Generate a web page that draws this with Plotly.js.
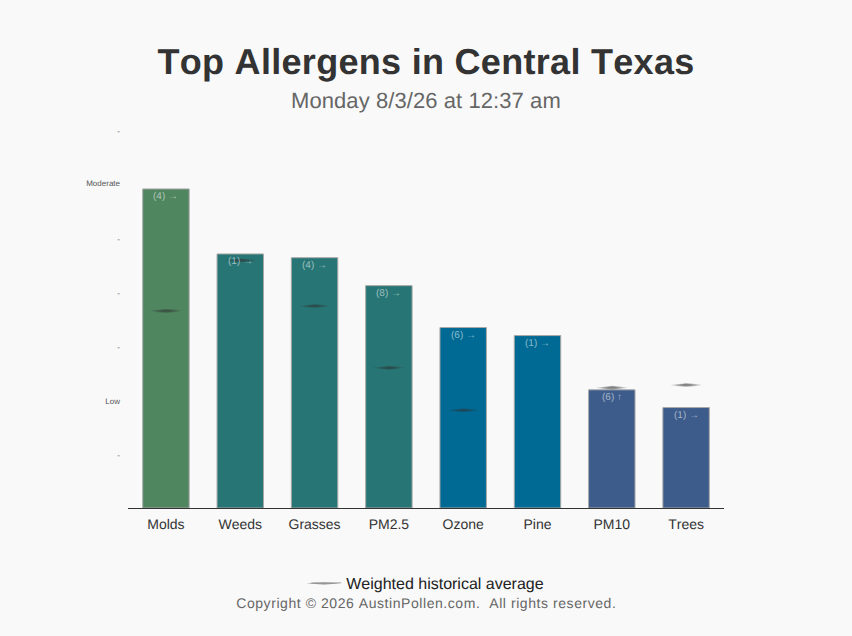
<!DOCTYPE html>
<html>
<head>
<meta charset="utf-8">
<script src="https://cdn.plot.ly/plotly-3.0.1.min.js"></script>
<style>
html,body{margin:0;padding:0;background:#f9f9f9;}
#chart{width:852px;height:636px;}
#chart text{text-rendering:geometricPrecision;font-kerning:none;}
.annotation-text[data-unformatted^="Copyright"]{letter-spacing:0.56px;}
.annotation-text[data-unformatted^="Monday"]{letter-spacing:0.08px;}
.gtitle{letter-spacing:0.3px;}
</style>
</head>
<body>
<div id="chart"></div>
<script>
const categories = ["Molds","Weeds","Grasses","PM2.5","Ozone","Pine","PM10","Trees"];
const levels = [5.94,4.73,4.66,4.14,3.36,3.21,2.20,1.87];
const averages = [3.67,4.61,3.76,2.61,1.82,null,2.24,2.29];
const counts = [4,1,4,8,6,1,6,1];
const trends = ["→","→","→","→","→","→","↑","→"];
const barColors = ["#4f855f","#277675","#277675","#277675","#006a94","#006a94","#3d5c8b","#3d5c8b"];
const yTickVals = [0.98,1.98,3,4,5,6.04,7.02];
const yTickText = ["-","Low","-","-","-","Moderate","-"];

const positions = categories.map((_,i)=>i);

function lens(halfW, halfH){
  const xs=[], ys=[];
  averages.forEach((a,i)=>{
    if(a===null) return;
    xs.push(i-halfW,i-halfW/2,i,i+halfW/2,i+halfW,i+halfW/2,i,i-halfW/2,i-halfW,null);
    ys.push(a,a+halfH*0.7,a+halfH,a+halfH*0.7,a,a-halfH*0.7,a-halfH,a-halfH*0.7,a,null);
  });
  return {x:xs,y:ys,type:"scatter",mode:"lines",fill:"toself",
    fillcolor:"rgba(50,50,50,0.26)",line:{width:0,color:"rgba(0,0,0,0)"},
    hoverinfo:"skip",showlegend:false};
}

const traces = [
  {type:"bar",x:positions,y:levels,width:0.625,
   marker:{color:barColors,line:{color:"#a8a8a8",width:1}},
   showlegend:false,hoverinfo:"skip"},
  lens(0.21,0.034),lens(0.15,0.028),lens(0.09,0.022),
  {type:"scatter",mode:"lines",x:[null],y:[null],name:"Weighted historical average",
   line:{color:"#aaa",width:1},showlegend:true}
];

const labelAnnotations = categories.map((_,i)=>({
  text:"("+counts[i]+") "+trends[i],x:i,y:levels[i],xref:"x",yref:"y",
  xanchor:"center",yanchor:"top",yshift:1,xshift:0,showarrow:false,
  font:{size:10,color:"rgba(255,255,255,0.55)"}
}));

const layout = {
  width:852,height:636,
  paper_bgcolor:"#f9f9f9",plot_bgcolor:"#f9f9f9",
  font:{family:"Liberation Sans, Arial, sans-serif",color:"#333"},
  margin:{l:128,r:128,t:129,b:127.5,pad:0},
  title:{text:"Top Allergens in Central Texas",x:0.5,xanchor:"center",y:0.904,yanchor:"middle",yref:"container",
    font:{family:"Liberation Sans, Arial, sans-serif",size:36,weight:700,color:"#333"}},
  xaxis:{type:"linear",range:[-0.5107,7.51],tickmode:"array",tickvals:positions,ticktext:categories,
    showgrid:false,zeroline:false,showline:true,linecolor:"#333",linewidth:1,ticks:"",ticklabelstandoff:3,
    tickfont:{size:14,color:"#333"},fixedrange:true},
  yaxis:{range:[0,7.056],tickmode:"array",tickvals:yTickVals,ticktext:yTickText,
    showgrid:false,zeroline:false,showline:false,ticks:"",ticklabelstandoff:7,
    tickfont:{size:8,color:"#555"},fixedrange:true},
  showlegend:true,
  legend:{orientation:"h",x:0.502,xanchor:"center",xref:"container",y:0.0835,yanchor:"middle",yref:"container",
    font:{size:16,color:"#222"},bgcolor:"rgba(0,0,0,0)",itemwidth:30},
  shapes:[
    {type:"path",xref:"paper",yref:"paper",
     path:"M 0.2990 -0.1989 L 0.3288 -0.2019 L 0.3570 -0.1989 L 0.3288 -0.1959 Z",
     fillcolor:"rgba(70,70,70,0.6)",line:{width:0}}
  ],
  annotations:[
    {text:"Monday 8/3/26 at 12:37 am",xref:"paper",yref:"paper",x:0.5,y:1.0751,xanchor:"center",yanchor:"middle",
     showarrow:false,font:{size:22,color:"#666"}},
    {text:"Copyright © 2026 AustinPollen.com.  All rights reserved.",xref:"paper",yref:"paper",x:0.5,y:-0.2515,xanchor:"center",yanchor:"middle",
     showarrow:false,font:{size:14,color:"#666"}}
  ].concat(labelAnnotations)
};
Plotly.newPlot("chart",traces,layout,{displayModeBar:false,staticPlot:true});
</script>
</body>
</html>
